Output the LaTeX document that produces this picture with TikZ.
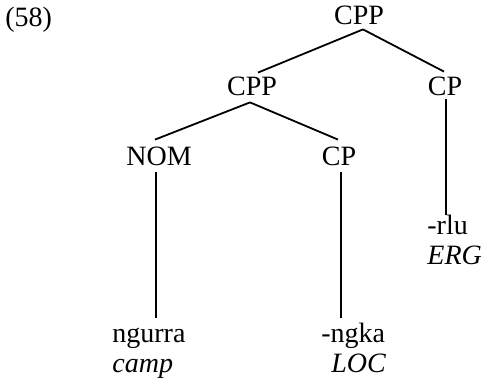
\documentclass[tikz,border=0pt]{standalone}
\usepackage{fontspec}
\setmainfont{Liberation Serif}
\usetikzlibrary{calc}
\begin{document}
\begin{tikzpicture}[x=0.5pt,y=-0.5pt,
  lbl/.style={inner sep=0pt, text height=9pt, text depth=0pt, font=\fontsize{14}{16}\selectfont},
  edge/.style={line width=0.9pt}]
\useasboundingbox (0,0) rectangle (484,384);
% labels
\node[lbl, anchor=base west] (ex) at (5,27) {(58)};
\node[lbl, anchor=base] (cpp0) at (359,25) {CPP};
\node[lbl, anchor=base] (cpp1) at (252,96) {CPP};
\node[lbl, anchor=base] (cp2) at (445,96) {CP};
\node[lbl, anchor=base] (nom) at (159,166) {NOM};
\node[lbl, anchor=base] (cp3) at (339,166) {CP};
\node[lbl, anchor=base west] (ngurra) at (112,343) {ngurra};
\node[lbl, anchor=base west] (camp) at (112,373) {\itshape camp};
\node[lbl, anchor=base west] (ngka) at (321,343) {-ngka};
\node[lbl, anchor=base west] (loc) at (331,373) {\itshape LOC};
\node[lbl, anchor=base west] (rlu) at (427,235) {-rlu};
\node[lbl, anchor=base west] (erg) at (427,265) {\itshape ERG};
% branches
\draw[edge] ($(cpp0.south)+(4,4)$) -- ($(cpp1.north)+(6,-5)$);
\draw[edge] ($(cpp0.south)+(4,4)$) -- ($(cp2.north)+(-1,-6)$);
\draw[edge] ($(cpp1.south)+(-2,6)$) -- ($(nom.north)+(-4,-8)$);
\draw[edge] ($(cpp1.south)+(-2,6)$) -- ($(cp3.north)+(-1,-8)$);
\draw[edge] ($(nom.south)+(-3,6)$) -- ($(nom.south|-ngurra.north)+(-3,-7)$);
\draw[edge] ($(cp3.south)+(2,6)$) -- ($(cp3.south|-ngka.north)+(2,-7)$);
\draw[edge] ($(cp2.south)+(1,3)$) -- ($(cp2.south|-rlu.north)+(1,-2)$);
\end{tikzpicture}
\end{document}
